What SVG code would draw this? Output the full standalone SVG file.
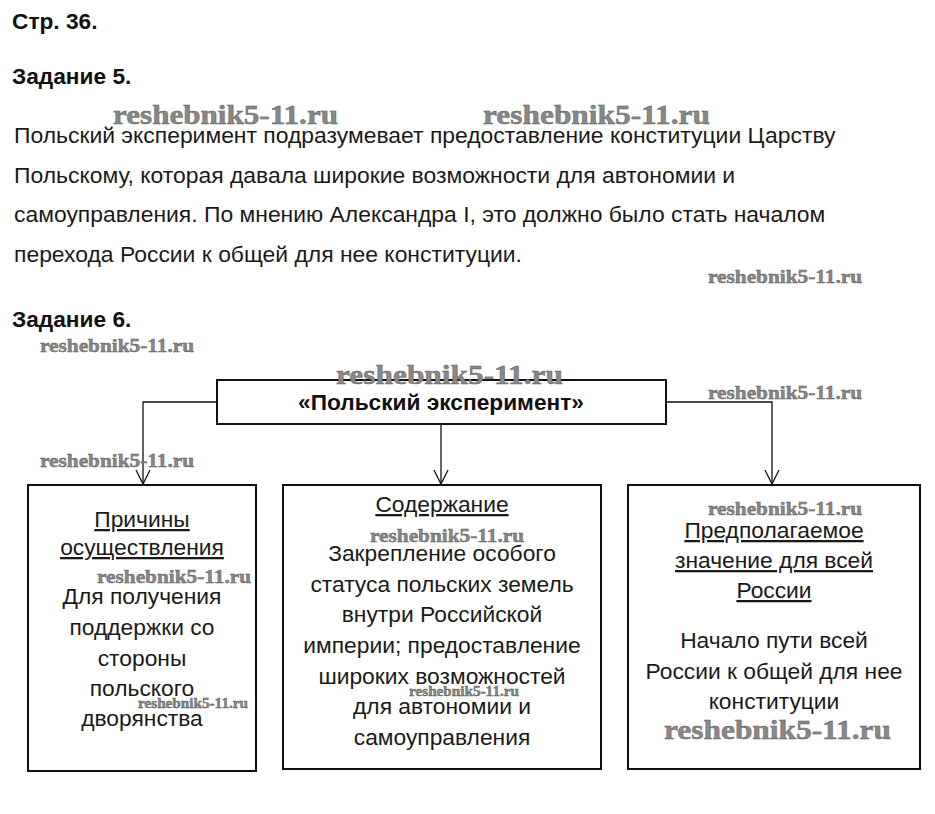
<svg xmlns="http://www.w3.org/2000/svg" width="935" height="814" viewBox="0 0 935 814">
<defs>
<marker id="arr" markerWidth="16" markerHeight="16" refX="8" refY="15" orient="0" markerUnits="userSpaceOnUse">
<path d="M1,1 L8,15 L15,1" fill="none" stroke="#111" stroke-width="1.3"/>
</marker>
</defs>
<style>
.h{font-family:"Liberation Sans",Arial,sans-serif;font-weight:bold;font-size:22.7px;fill:#111}
.p{font-family:"Liberation Sans",Arial,sans-serif;font-size:22.9px;fill:#1a1a1a}
.c{font-family:"Liberation Sans",Arial,sans-serif;font-size:22.8px;fill:#1a1a1a;text-anchor:middle}
.u{text-decoration:underline}
.box{fill:#fff;stroke:#111;stroke-width:2}
.ln{fill:none;stroke:#111;stroke-width:1.3}
.w{font-family:"Liberation Serif","Times New Roman",serif;font-weight:bold;fill:#888;stroke:#555;stroke-width:0.4}
.ws{font-size:18px}
.wl{font-size:27px}
.wt{font-size:14px}
</style>
<rect width="935" height="814" fill="#fff"/>
<text class="h" x="12" y="29">Стр. 36.</text>
<text class="h" x="12" y="84">Задание 5.</text>
<g id="paragraph">
<text class="p" x="14" y="143">Польский эксперимент подразумевает предоставление конституции Царству</text>
<text class="p" x="14" y="183">Польскому, которая давала широкие возможности для автономии и</text>
<text class="p" x="14" y="222">самоуправления. По мнению Александра I, это должно было стать началом</text>
<text class="p" x="14" y="262">перехода России к общей для нее конституции.</text>
</g>
<text class="h" x="12" y="327">Задание 6.</text>
<g id="connectors">
<polyline class="ln" points="217,402 143,402 143,484" marker-end="url(#arr)"/>
<polyline class="ln" points="441,424 441,484" marker-end="url(#arr)"/>
<polyline class="ln" points="666,402 772,402 772,484" marker-end="url(#arr)"/>
</g>
<g id="root">
<rect class="box" x="217" y="380" width="449" height="44"/>
<text class="h" x="441" y="410" text-anchor="middle">«Польский эксперимент»</text>
</g>
<g id="reasons">
<rect class="box" x="28" y="485" width="228" height="286"/>
<text class="c u" x="142" y="527">Причины</text>
<text class="c u" x="142" y="555">осуществления</text>
<text class="c" x="142" y="604">Для получения</text>
<text class="c" x="142" y="635">поддержки со</text>
<text class="c" x="142" y="666">стороны</text>
<text class="c" x="142" y="696">польского</text>
<text class="c" x="142" y="726">дворянства</text>
</g>
<g id="content">
<rect class="box" x="283" y="485" width="318" height="284"/>
<text class="c u" x="442" y="512">Содержание</text>
<text class="c" x="442" y="561">Закрепление особого</text>
<text class="c" x="442" y="592">статуса польских земель</text>
<text class="c" x="442" y="622">внутри Российской</text>
<text class="c" x="442" y="653">империи; предоставление</text>
<text class="c" x="442" y="684">широких возможностей</text>
<text class="c" x="442" y="714">для автономии и</text>
<text class="c" x="442" y="745">самоуправления</text>
</g>
<g id="meaning">
<rect class="box" x="628" y="485" width="292" height="284"/>
<text class="c u" x="774" y="538">Предполагаемое</text>
<text class="c u" x="774" y="568">значение для всей</text>
<text class="c u" x="774" y="598">России</text>
<text class="c" x="774" y="648">Начало пути всей</text>
<text class="c" x="774" y="679">России к общей для нее</text>
<text class="c" x="774" y="709">конституции</text>
</g>
<g id="watermarks">
<text class="w wl" x="113" y="124" textLength="225" lengthAdjust="spacingAndGlyphs">reshebnik5-11.ru</text>
<text class="w wl" x="483" y="124" textLength="227" lengthAdjust="spacingAndGlyphs">reshebnik5-11.ru</text>
<text class="w ws" x="708" y="283" textLength="154" lengthAdjust="spacingAndGlyphs">reshebnik5-11.ru</text>
<text class="w ws" x="40" y="352" textLength="154" lengthAdjust="spacingAndGlyphs">reshebnik5-11.ru</text>
<text class="w wl" x="336" y="384" textLength="227" lengthAdjust="spacingAndGlyphs">reshebnik5-11.ru</text>
<text class="w ws" x="708" y="399" textLength="154" lengthAdjust="spacingAndGlyphs">reshebnik5-11.ru</text>
<text class="w ws" x="40" y="467" textLength="154" lengthAdjust="spacingAndGlyphs">reshebnik5-11.ru</text>
<text class="w ws" x="708" y="515" textLength="154" lengthAdjust="spacingAndGlyphs">reshebnik5-11.ru</text>
<text class="w ws" x="370" y="542" textLength="154" lengthAdjust="spacingAndGlyphs">reshebnik5-11.ru</text>
<text class="w ws" x="97" y="583" textLength="154" lengthAdjust="spacingAndGlyphs">reshebnik5-11.ru</text>
<text class="w wt" x="409" y="696" textLength="110" lengthAdjust="spacingAndGlyphs">reshebnik5-11.ru</text>
<text class="w wt" x="138" y="708" textLength="110" lengthAdjust="spacingAndGlyphs">reshebnik5-11.ru</text>
<text class="w wl" x="664" y="739" textLength="227" lengthAdjust="spacingAndGlyphs">reshebnik5-11.ru</text>
</g>
</svg>
